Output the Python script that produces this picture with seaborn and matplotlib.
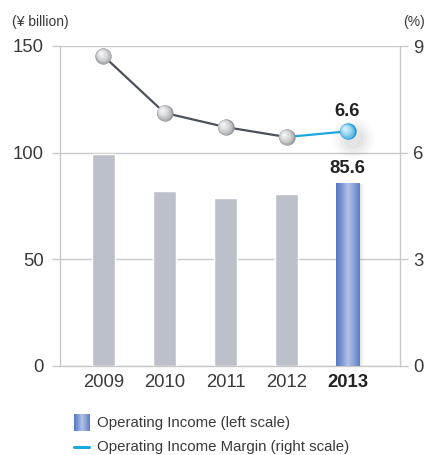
import numpy as np
import pandas as pd
import matplotlib
matplotlib.use("Agg")
import matplotlib.pyplot as plt
import matplotlib.transforms as mtransforms
from matplotlib.lines import Line2D
from matplotlib.colors import LinearSegmentedColormap, to_rgb
import seaborn as sns

# Fiscal years and results
years = ["2009", "2010", "2011", "2012", "2013"]
operating_income = [99.4, 82.0, 78.8, 80.6, 85.6]      # ¥ billion
operating_margin = [8.72, 7.12, 6.72, 6.44, 6.6]        # %
left_ticks = [0, 50, 100, 150]
right_ticks = [0, 3, 6, 9]

GRID = "#c9c9c9"
TEXT = "#3a3a3a"
BAR_GREY = "#b9bfcb"
LINE_DARK = "#4b515b"
CYAN = "#1aa8e2"
FS = 13.3

sns.set_theme(style="white")
plt.rcParams["font.family"] = ["Liberation Sans", "DejaVu Sans"]

fig = plt.figure(figsize=(4.28, 4.55), dpi=100)
ax = fig.add_axes([60 / 428, 89 / 455, 340 / 428, 320 / 455])

df = pd.DataFrame({"year": years, "income": operating_income})
palette = [BAR_GREY] * 4 + ["#6f8fcf"]
sns.barplot(data=df, x="year", y="income", hue="year", palette=palette,
            legend=False, width=23 / 61, ax=ax, zorder=3)

ax.set_xlim(-0.713, 4.86)
ax.set_ylim(0, 150)
ax.set_yticks(left_ticks)
ax.set_xlabel("")
ax.set_ylabel("")
ax.grid(axis="y", color=GRID, linewidth=1.0, zorder=0)
ax.grid(axis="x", visible=False)
for s in ax.spines.values():
    s.set_color(GRID)
    s.set_linewidth(1.0)
ax.spines["top"].set_visible(False)
ax.tick_params(axis="y", length=5.8, width=1.0, color=GRID, pad=6.0,
               labelsize=FS, labelcolor=TEXT)
ax.tick_params(axis="x", length=0, pad=6, labelsize=FS, labelcolor=TEXT)
for lbl in ax.get_xticklabels():
    if lbl.get_text() == "2013":
        lbl.set_fontweight("bold")
        lbl.set_color("#222222")

# Horizontal blue gradient on the latest bar, plus a soft shadow to its right
bar = ax.patches[4]
bx, bw, bh = bar.get_x(), bar.get_width(), bar.get_height()
for i, a in enumerate([0.10, 0.07, 0.05, 0.03, 0.015]):
    ax.add_patch(plt.Rectangle((bx + bw + i * 0.02, 0), 0.025, bh - 0.5,
                               color="#555555", alpha=a, lw=0, zorder=2))
blue = LinearSegmentedColormap.from_list(
    "blue", ["#5878c0", "#7d99d3", "#b3c2e6", "#8aa3d8", "#5d7dc3"])
grad = np.linspace(0, 1, 64).reshape(1, -1)
img = ax.imshow(grad, cmap=blue, aspect="auto", extent=(bx, bx + bw, 0, bh),
                zorder=4)
img.set_clip_path(bar)
ax.set_xlim(-0.713, 4.86)
ax.set_ylim(0, 150)
ax.text(bx + bw / 2, bh + 3.0, f"{operating_income[-1]:.1f}", ha="center",
        va="bottom", fontsize=FS, fontweight="bold", color="#222222", zorder=6)

# Margin line on the right-hand scale
ax2 = ax.twinx()
ax2.set_ylim(0, 9)
ax2.set_yticks(right_ticks)
ax2.grid(False)
for s in ax2.spines.values():
    s.set_visible(False)
ax2.tick_params(axis="y", length=5.8, width=1.0, color=GRID, pad=3.5,
                labelsize=FS, labelcolor=TEXT)

xs = np.arange(len(years))
line_df = pd.DataFrame({"x": xs[:4], "m": operating_margin[:4]})
sns.lineplot(data=line_df, x="x", y="m", color=LINE_DARK, linewidth=1.6,
             ax=ax2, zorder=3)
seg_df = pd.DataFrame({"x": xs[3:], "m": operating_margin[3:]})
sns.lineplot(data=seg_df, x="x", y="m", color=CYAN, linewidth=1.6,
             ax=ax2, zorder=3)
ax2.set_xlabel("")
ax2.set_ylabel("")

# Soft drop shadow below-right of the latest marker
for r, a in [(30, 0.03), (25, 0.04), (20, 0.05), (15, 0.06)]:
    sh = mtransforms.offset_copy(ax2.transData, fig=fig, x=5, y=-7, units="dots")
    ax2.scatter([xs[4]], [operating_margin[4]], s=r * r, color="#666666",
                alpha=a, lw=0, transform=sh, zorder=3)


# Shaded spheres for markers: concentric discs drifting toward the top-left
def sphere(x, y, dark, light, n=12):
    d, l = np.array(to_rgb(dark)), np.array(to_rgb(light))
    for k in range(n):
        t = k / (n - 1)
        size = 135 * (1 - t) ** 1.3 + 3
        off = 3.0 * t
        c = d + (l - d) * t ** 0.6
        tr = mtransforms.offset_copy(ax2.transData, fig=fig, x=-off, y=off,
                                     units="dots")
        ax2.scatter([x], [y], s=size, color=c, lw=0, transform=tr, zorder=5)


for i in range(4):
    sphere(xs[i], operating_margin[i], "#939498", "#f4f4f5")
sphere(xs[4], operating_margin[4], "#1796d6", "#d6f2fd")
ax2.text(xs[4], operating_margin[4] + 0.33, f"{operating_margin[4]:.1f}",
         ha="center", va="bottom", fontsize=FS, fontweight="bold",
         color="#222222", zorder=6)
ax2.set_xlim(-0.713, 4.86)

# Axis unit captions
fig.text(12 / 428, 1 - 22 / 455, "(¥ billion)", fontsize=10, color=TEXT,
         va="center", ha="left")
fig.text(425 / 428, 1 - 22 / 455, "(%)", fontsize=10, color=TEXT,
         va="center", ha="right")

# Legend
icon = fig.add_axes([74 / 428, 1 - 431 / 455, 16 / 428, 17 / 455])
icon.imshow(grad, cmap=blue, aspect="auto")
icon.set_axis_off()
fig.text(97 / 428, 1 - 423 / 455, "Operating Income (left scale)",
         fontsize=10.8, color=TEXT, va="center", ha="left")
fig.add_artist(Line2D([74 / 428, 89 / 428], [1 - 447 / 455, 1 - 447 / 455],
                      color=CYAN, linewidth=2.2, transform=fig.transFigure))
fig.text(97 / 428, 1 - 447 / 455, "Operating Income Margin (right scale)",
         fontsize=10.8, color=TEXT, va="center", ha="left")

fig.savefig("out.png", dpi=100)
